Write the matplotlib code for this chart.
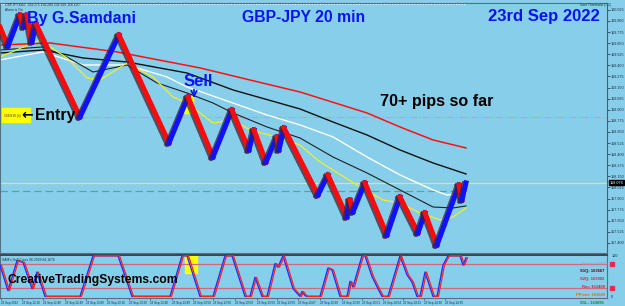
#Importing libraries
import matplotlib.pyplot as plt
import matplotlib.patheffects as pe
from matplotlib.patches import Rectangle
from matplotlib.transforms import blended_transform_factory

#Renko swing points (bar, price)
zz_x = [0, 8, 20, 24, 27, 32, 36, 80, 119, 169, 188, 213, 232, 249, 254, 266, 277, 279, 284,
        318, 328, 347, 350, 353, 365, 387, 400, 418, 425, 437, 459, 462, 466]
zz_p = [159.832, 159.618, 159.967, 159.832, 159.967, 159.663, 159.866, 158.819, 159.742, 158.526,
        159.044, 158.368, 158.898, 158.447, 158.672, 158.312, 158.594, 158.447, 158.695,
        157.940, 158.166, 157.693, 157.884, 157.749, 158.076, 157.490, 157.918, 157.513,
        157.738, 157.377, 158.053, 157.884, 158.076]

#Moving averages
ma_red_x = [0, 50, 117, 200, 250, 300, 367, 400, 433, 466]
ma_red_p = [159.629, 159.652, 159.551, 159.371, 159.235, 159.100, 158.864, 158.706, 158.560, 158.470]

ma_blk1_x = [0, 43, 83, 127, 187, 233, 300, 333, 367, 400, 433, 466]
ma_blk1_p = [159.539, 159.573, 159.483, 159.438, 159.314, 159.123, 158.909, 158.762, 158.616,
             158.447, 158.301, 158.177]

ma_white_x = [0, 43, 83, 127, 167, 187, 233, 267, 300, 333, 367, 400, 433, 447, 466]
ma_white_p = [159.461, 159.551, 159.404, 159.404, 159.269, 159.157, 158.976, 158.841, 158.729,
              158.594, 158.368, 158.166, 157.997, 157.940, 157.963]

ma_blk2_x = [0, 43, 67, 93, 127, 157, 187, 213, 233, 267, 300, 333, 367, 400, 433, 453, 466]
ma_blk2_p = [159.573, 159.607, 159.494, 159.325, 159.404, 159.202, 159.089, 158.976, 158.864,
             158.706, 158.582, 158.368, 158.188, 157.997, 157.805, 157.794, 157.817]

ma_yel_x = [0, 40, 67, 87, 100, 127, 153, 173, 187, 213, 233, 250, 277, 300, 320, 333, 360,
            383, 400, 420, 440, 453, 466]
ma_yel_p = [159.494, 159.686, 159.483, 159.258, 159.235, 159.427, 159.269, 159.044, 158.976,
            158.751, 158.785, 158.672, 158.594, 158.503, 158.312, 158.222, 158.031, 157.884,
            157.850, 157.738, 157.659, 157.693, 157.794]

entry_price = 158.819
close_price = 158.076
green_level = 157.986

#Oscillator (0-100)
osc_x = [0, 8, 17, 23, 32, 37, 45, 80, 93, 118, 132, 170, 182, 187, 200, 213, 225, 232, 245,
         250, 255, 262, 267, 275, 278, 283, 293, 300, 302, 305, 307, 320, 328, 332, 340, 347,
         350, 353, 362, 365, 372, 378, 382, 388, 400, 407, 412, 417, 420, 425, 433, 437, 443,
         448, 460, 463, 466]
osc_v = [77, 14, 88, 84, 19, 60, 0, 0, 100, 100, 0, 0, 100, 100, 0, 0, 100, 100, 0,
         0, 47, 0, 0, 81, 72, 100, 19, 0, 12, 2, 0, 0, 70, 65, 0, 0,
         37, 23, 100, 100, 49, 19, 0, 0, 100, 53, 35, 0, 0, 60, 0, 0, 77,
         100, 100, 77, 95]

#Axis labels
price_ticks = [157.400 + 0.125 * k for k in range(22)]
time_pos = [1, 22, 43, 65, 86, 107, 129, 150, 172, 193, 213, 235, 257, 277, 298, 320, 342,
            362, 383, 403, 424, 445]
time_labels = ["23 Sep 2022", "23 Sep 12:10", "23 Sep 12:40", "23 Sep 12:49", "23 Sep 13:00",
               "23 Sep 13:10", "23 Sep 13:20", "23 Sep 13:40", "23 Sep 13:49", "23 Sep 13:50",
               "23 Sep 13:58", "23 Sep 13:59", "23 Sep 13:59", "23 Sep 13:59", "23 Sep 13:07",
               "23 Sep 13:29", "23 Sep 13:39", "23 Sep 13:51", "23 Sep 14:04", "23 Sep 14:13",
               "23 Sep 14:20", "23 Sep 14:39"]

BG = "#87CEEB"
W, H = 625, 306
def fx(px): return px / W
def fy(py): return 1 - py / H

plt.rcParams['font.family'] = ['Liberation Sans', 'DejaVu Sans']

fig = plt.figure(figsize=(6.25, 3.06), dpi=100, facecolor=BG)
ax = fig.add_axes([0, fy(253), fx(607), (253 - 3) / H], facecolor=BG)
ax2 = fig.add_axes([0, fy(298), fx(607), (298 - 255) / H], facecolor=BG)

ax.set_xlim(0, 607)
ax.set_ylim(157.287, 160.102)
ax2.set_xlim(0, 607)
ax2.set_ylim(-4, 102)

#Horizontal levels
ax.axhline(entry_price, xmin=80 / 607, color="#c9a09a", lw=0.8, ls=(0, (6, 2, 1, 2)))
ax.axhline(close_price, color="#e4e47a", lw=0.9)
ax.plot([0, 466], [green_level, green_level], color="#5aa88a", lw=0.9, ls=(0, (6, 3)))
ax.axhline(160.09, xmax=465 / 607, color="white", lw=0.8, ls=(0, (1, 1.5)))

#Moving averages
ax.plot(ma_red_x, ma_red_p, color="#ff1010", lw=1.1)
ax.plot(ma_blk1_x, ma_blk1_p, color="#101010", lw=1.0)
ax.plot(ma_white_x, ma_white_p, color="white", lw=1.0)
ax.plot(ma_blk2_x, ma_blk2_p, color="#202020", lw=0.8)
ax.plot(ma_yel_x, ma_yel_p, color="#f0f020", lw=0.9)

#Highlight boxes
ax.add_patch(Rectangle((184, 158.864), 9, 0.19, color="#ffff00", zorder=3))
ax.add_patch(Rectangle((2, 158.762), 28, 0.158, color="#ffff00", zorder=3))

#Renko swings
shadow = [pe.SimpleLineShadow(offset=(-1.4, -0.7), shadow_color="#3a2636", alpha=0.75, rho=1.0),
          pe.Normal()]
for i in range(len(zz_x) - 1):
    up = zz_p[i + 1] > zz_p[i]
    ax.plot(zz_x[i:i + 2], zz_p[i:i + 2], color="#1010ff" if up else "#ff0a0a", lw=3.6,
            solid_capstyle="projecting", zorder=4, path_effects=shadow)

#Price axis
ax.yaxis.tick_right()
ax.set_yticks(price_ticks)
ax.set_yticklabels(["%.3f" % t for t in price_ticks])
ax.tick_params(axis="y", labelsize=2.7, length=2, width=0.5, colors="#1a2a3a", pad=0.8)
ax.set_xticks([])
for s in ["top", "bottom", "left"]:
    ax.spines[s].set_color("#5a7080")
ax.spines["right"].set_color("#4a6070")
ax.text(1.004, close_price, "%.3f" % close_price,
        transform=blended_transform_factory(ax.transAxes, ax.transData),
        fontsize=2.7, color="white", va="center", ha="left",
        bbox=dict(boxstyle="square,pad=0.15", fc="black", ec="black"))

#Oscillator panel
ax2.add_patch(Rectangle((185, 58), 12, 44, color="#ffff00", zorder=1))
ax2.axhline(80, color="#d06a78", lw=0.9)
ax2.axhline(20, color="#d06a78", lw=0.9)
ax2.plot(osc_x, osc_v, color="#2030ff", lw=1.0, zorder=3)
ax2.plot([x + 1.5 for x in osc_x], osc_v, color="#ff2020", lw=0.9, zorder=3)
ax2.set_yticks([100, 0])
ax2.yaxis.tick_right()
ax2.set_yticklabels(["100", "0"])
ax2.tick_params(axis="y", labelsize=2.7, length=0, colors="#1a2a3a", pad=3)
ax2.set_xticks(time_pos)
ax2.set_xticklabels(time_labels, ha="left")
ax2.tick_params(axis="x", labelsize=2.2, length=1.5, width=0.4, colors="#1a2a3a", pad=0.5)
for s in ["bottom", "left", "right"]:
    ax2.spines[s].set_color("#5a7080")
ax2.spines["top"].set_color("#3a4650")
ax2.spines["top"].set_linewidth(1.4)
bt = blended_transform_factory(ax2.transAxes, ax2.transData)
ax2.plot([1.008, 1.008], [80, 20], "s", color="#e03040", ms=3, transform=bt, clip_on=False)
ax2.text(0.004, 88, "SAM's Hull Cross 96.2909 84.1676", fontsize=2.4, color="#203040",
         transform=bt)

#Titles and notes
fig.text(fx(27), fy(23), "By G.Samdani", fontsize=11.5, fontweight="bold", color="#0a14f0")
fig.text(fx(242), fy(22), "GBP-JPY 20 min", fontsize=11.3, fontweight="bold", color="#0a14f0")
fig.text(fx(488), fy(21.5), "23rd Sep 2022", fontsize=12, fontweight="bold", color="#0a14f0")
fig.text(fx(184), fy(86), "Sell", fontsize=12, fontweight="bold", color="#0a14f0")
ax.annotate("", xy=(194, 159.0), xytext=(194, 159.16),
            arrowprops=dict(arrowstyle="->", color="#0a14f0", lw=1.2), zorder=6)
fig.text(fx(21), fy(119), "\u2190", fontsize=10, fontweight="bold", color="black",
         family=["DejaVu Sans"])
fig.text(fx(35), fy(120), "Entry", fontsize=11.3, fontweight="bold", color="black")
fig.text(fx(4), fy(116.5), "158.819 (#)", fontsize=2.3, color="#403010")
fig.text(fx(380), fy(106), "70+ pips so far", fontsize=11.6, fontweight="bold", color="black")
fig.text(fx(8), fy(283), "CreativeTradingSystems.com", fontsize=8.7, fontweight="bold",
         color="black")
fig.text(fx(5), fy(6), "GBPJPY,M20  158.275 158.280 158.150 158.150", fontsize=2.4,
         color="#203040")
fig.text(fx(5), fy(11), "Alarm is On", fontsize=2.4, color="#203040")
fig.text(fx(580), fy(6), "Sam Threshold (7,2)", fontsize=2.4, color="#203040")

#Pivot readings in the lower right
fig.text(fx(583), fy(265), "Hedge 108925", fontsize=2.8, color="#9aa0b0")
fig.text(fx(580), fy(272), "S1Q: 163667", fontsize=3.0, fontweight="bold", color="#5a0010")
fig.text(fx(580), fy(280), "S2Q: 163902", fontsize=3.0, fontweight="bold", color="#d8204a")
fig.text(fx(582), fy(288), "Rm: 163408", fontsize=3.0, fontweight="bold", color="#d8204a")
fig.text(fx(576), fy(295.5), "PPivot: 163889", fontsize=3.0, fontweight="bold", color="#ff6000")
fig.text(fx(580), fy(303.5), "S1L: 163695", fontsize=3.0, fontweight="bold", color="#108a10")

plt.savefig("out.png", dpi=100, facecolor=BG)
